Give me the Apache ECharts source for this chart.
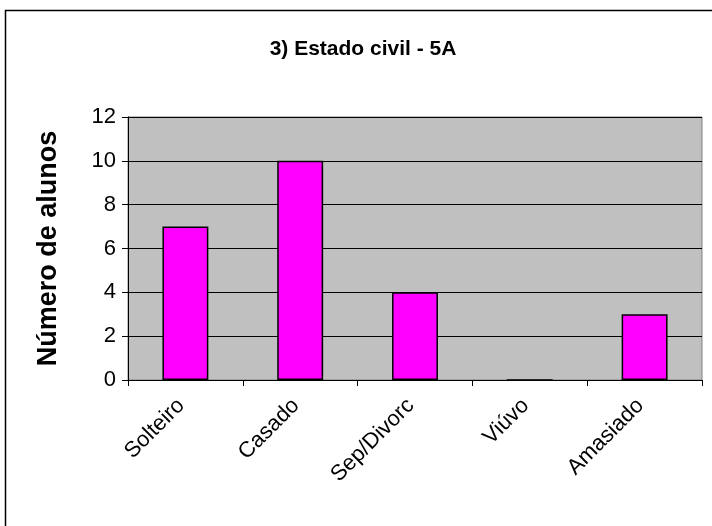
<!DOCTYPE html>
<html>
<head>
<meta charset="utf-8">
<script src="https://cdn.jsdelivr.net/npm/echarts@6/dist/echarts.min.js"></script>
<style>
	html,body{margin:0;padding:0;background:#fff;}
	#main{width:712px;height:526px;}
</style>
</head>
<body>
<div id="main"></div>
<script>
	var categories = ['Solteiro', 'Casado', 'Sep/Divorc', 'Viúvo', 'Amasiado'];
	var alunos = [7, 10, 4, 0, 3];
	var yTicks = [0, 2, 4, 6, 8, 10, 12];

	var chart = echarts.init(document.getElementById('main'));
	var option = {
		animation: false,
		backgroundColor: '#fff',
		title: {
			text: '3) Estado civil - 5A',
			left: 358,
			top: 34,
			textAlign: 'center',
			textStyle: {
				fontFamily: 'Liberation Sans',
				fontSize: 21,
				fontWeight: 'bold',
				color: '#000'
			}
		},
		graphic: [{
			type: 'rect',
			shape: { x: 5.5, y: 10.5, width: 720, height: 530 },
			style: { fill: 'none', stroke: '#000', lineWidth: 1.5 },
			silent: true
		}],
		grid: {
			left: 128,
			top: 117,
			right: 10,
			bottom: 146,
			show: true,
			backgroundColor: '#C0C0C0',
			borderColor: '#808080',
			borderWidth: 1
		},
		xAxis: {
			type: 'category',
			data: categories,
			axisLine: { lineStyle: { color: '#000', width: 1 } },
			axisTick: { show: true, length: 6, lineStyle: { color: '#000' } },
			axisLabel: {
				rotate: 45,
				margin: 18,
				padding: [0, 6, 0, 0],
				fontFamily: 'Liberation Sans',
				fontSize: 22,
				color: '#000'
			}
		},
		yAxis: {
			type: 'value',
			min: yTicks[0],
			max: yTicks[yTicks.length - 1],
			interval: 2,
			name: 'Número de alunos',
			nameLocation: 'middle',
			nameGap: 66,
			nameTextStyle: {
				fontFamily: 'Liberation Sans',
				fontSize: 27,
				fontWeight: 'bold',
				color: '#000'
			},
			axisLine: { show: true, lineStyle: { color: '#000', width: 1 } },
			axisTick: { show: true, length: 6, lineStyle: { color: '#000' } },
			axisLabel: {
				margin: 12,
				fontFamily: 'Liberation Sans',
				fontSize: 22,
				color: '#000'
			},
			splitLine: { show: true, lineStyle: { color: '#000', width: 1 } }
		},
		series: [{
			type: 'bar',
			data: alunos,
			barWidth: '40%',
			itemStyle: {
				color: '#FF00FF',
				borderColor: '#000',
				borderWidth: 1.5
			}
		}]
	};
	chart.setOption(option);
</script>
</body>
</html>
